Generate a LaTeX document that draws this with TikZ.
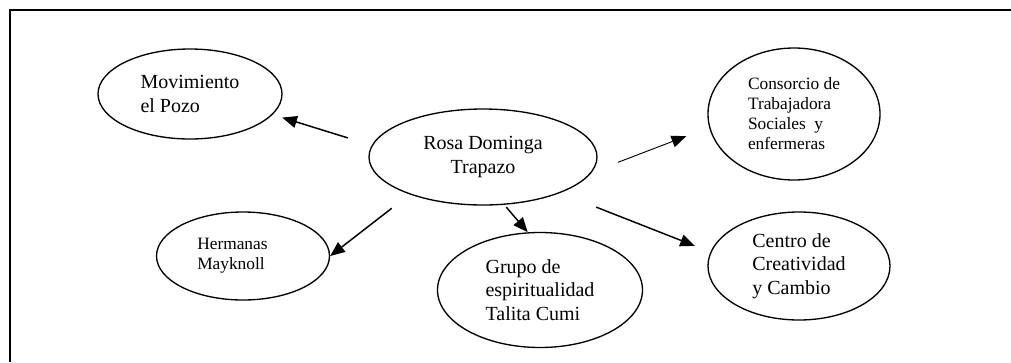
\documentclass[tikz,border=0pt]{standalone}
\usepackage{fontspec}
\setmainfont{Liberation Serif}
\usepackage{tikz}
\usetikzlibrary{arrows.meta,shapes.geometric}

\begin{document}
\begin{tikzpicture}[x=0.75pt,y=-0.75pt,every node/.style={font=\fontsize{15}{17.5}\selectfont}]
\tikzstyle{e}=[draw,ellipse,line width=1pt,inner sep=0pt,align=left]
\tikzstyle{sm}=[font=\fontsize{13}{15}\selectfont]
\tikzstyle{a}=[-{Triangle[length=11pt,width=9pt]},line width=1.1pt]
\useasboundingbox (0,0) rectangle (1011,362);
% frame
\draw[line width=1.1pt] (1011,10) -- (10,10) -- (10,362);
% nodes
\node[e,align=center,minimum width=171pt,minimum height=72pt](rosa) at (483,157){Rosa Dominga\\Trapazo};
\node[e,minimum width=138pt,minimum height=67.5pt](pozo) at (190,94){Movimiento\\el Pozo};
\node[e,sm,minimum width=129pt,minimum height=99pt](consorcio) at (794,114){Consorcio de\\Trabajadora\\Sociales~ y\\enfermeras};
\node[e,sm,minimum width=129.75pt,minimum height=66pt](hermanas) at (243,256){Hermanas\\Mayknoll\hspace*{18pt}};
\node[e,minimum width=153.75pt,minimum height=86.25pt](grupo) at (540,290){Grupo de\\espiritualidad\\Talita Cumi};
\node[e,minimum width=136.5pt,minimum height=81pt](centro) at (799,266){Centro de\\Creatividad\\y Cambio};
% arrows
\draw[a,shorten <=18.75pt,shorten >=7.5pt](rosa.174.7)--(pozo.346);
\draw[a,line width=0.7pt,shorten <=21pt,shorten >=18.4pt](rosa.352.4)--(consorcio.189.9);
\draw[a,shorten <=17pt](rosa.207.5)--(hermanas.east);
\draw[a,shorten <=2.25pt](rosa.294.7)--(grupo.102);
\draw[a,shorten <=29pt,shorten >=12.5pt](rosa.335.7)--(centro.171.8);
\end{tikzpicture}
\end{document}
